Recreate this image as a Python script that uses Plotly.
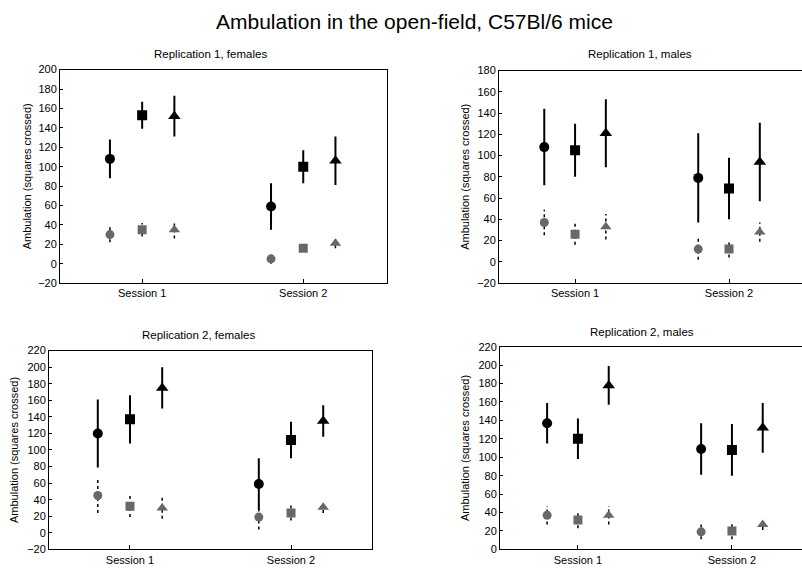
import plotly.graph_objects as go

sessions = ["Session 1", "Session 2"]
panel_titles = ["Replication 1, females", "Replication 1, males",
                "Replication 2, females", "Replication 2, males"]
main_title = "Ambulation in the open-field, C57Bl/6 mice"
y_title = "Ambulation (squares crossed)"
symbols = ["circle", "square", "triangle-up"]

# Values per panel: [circle, square, triangle] x [Session 1, Session 2]
black_means = [
    [[108, 59], [153, 100], [152, 106]],
    [[108, 79], [105, 69], [121, 94]],
    [[120, 59], [137, 112], [175, 135]],
    [[137, 109], [120, 108], [178, 132]],
]
black_errs = [
    [[20, 24], [14, 17], [21, 25]],
    [[36, 42], [25, 29], [32, 37]],
    [[41, 31], [29, 22], [25, 19]],
    [[22, 28], [22, 28], [21, 27]],
]
gray_means = [
    [[30, 5], [35, 16], [35, 21]],
    [[37, 12], [26, 12], [33, 28]],
    [[45, 19], [32, 24], [30, 31]],
    [[37, 19], [32, 20], [37, 27]],
]
gray_errs = [
    [[8, 5], [7, 3], [9, 5]],
    [[12, 10], [10, 8], [12, 9]],
    [[21, 15], [13, 9], [13, 7]],
    [[10, 8], [9, 9], [10, 6]],
]
y_ranges = [[-20, 200], [-20, 180], [-20, 220], [0, 220]]

W, H = 802, 573
# pixel boxes (left, top, right, bottom)
boxes = [(60, 65, 387, 283), (499, 66, 802, 283), (49, 352, 372, 555), (500, 348, 802, 555)]
x_ranges = [[0.49, 2.52], [0.506, 2.474], [0.497, 2.503], [0.494, 2.455]]
title_pos = [(210, 49), (640, 49), (198, 336), (642, 333)]
ytitle_x = [27, 465, 14, 465]
offsets = [-0.2, 0.0, 0.2]
gray = "#686868"
FONT = "Liberation Sans, Arial, sans-serif"

fig = go.Figure()
annotations = []
for p in range(4):
    ax = "" if p == 0 else str(p + 1)
    xref, yref = "x" + ax, "y" + ax
    for k, sym in enumerate(symbols):
        xs = [i + 1 + offsets[k] for i in range(2)]
        # gray error bars (dashed)
        lx, ly = [], []
        for i in range(2):
            m, e = gray_means[p][k][i], gray_errs[p][k][i]
            lx += [xs[i], xs[i], None]
            ly += [m - e, m + e, None]
        fig.add_trace(go.Scatter(x=lx, y=ly, mode="lines", xaxis=xref, yaxis=yref,
                                 line=dict(color="black", width=1.5, dash="3px,3px"),
                                 showlegend=False, hoverinfo="skip"))
        fig.add_trace(go.Scatter(x=xs, y=gray_means[p][k], mode="markers",
                                 xaxis=xref, yaxis=yref,
                                 marker=dict(symbol=sym, color=gray,
                                             size=10 if k == 2 else 9),
                                 showlegend=False))
        fig.add_trace(go.Scatter(x=xs, y=black_means[p][k], mode="markers",
                                 xaxis=xref, yaxis=yref,
                                 error_y=dict(type="data", array=black_errs[p][k],
                                              color="black", thickness=2, width=0),
                                 marker=dict(symbol=sym, color="black",
                                             size=11 if k == 2 else 10),
                                 showlegend=False))
    l, t, r, b = boxes[p]
    right_panel = p in (1, 3)
    fig.update_layout(**{
        "xaxis" + ax: dict(domain=[l / W, r / W], range=x_ranges[p],
                           tickvals=[1, 2], ticktext=sessions, ticks="inside",
                           ticklen=4, tickcolor="black", showline=True,
                           linecolor="black", linewidth=1, mirror=True,
                           showgrid=False, zeroline=False, anchor=yref,
                           tickfont=dict(size=11, color="black", family=FONT)),
        "yaxis" + ax: dict(domain=[1 - b / H, 1 - t / H], range=y_ranges[p],
                           dtick=20, ticks="inside", ticklen=3, tickcolor="black",
                           showline=True, linecolor="black",
                           linewidth=1, mirror=(not right_panel), showgrid=False,
                           zeroline=False, anchor=xref,
                           tickfont=dict(size=11, color="black", family=FONT)),
    })
    tx, ty = title_pos[p]
    annotations.append(dict(text=panel_titles[p], x=tx / W, y=1 - ty / H,
                            xref="paper", yref="paper", showarrow=False,
                            font=dict(size=11.5, color="black", family=FONT),
                            xanchor="center", yanchor="middle"))
    annotations.append(dict(text=y_title, x=ytitle_x[p] / W, y=1 - ((t + b) / 2) / H,
                            xref="paper", yref="paper", showarrow=False, textangle=-90,
                            font=dict(size=11, color="black", family=FONT),
                            xanchor="center", yanchor="middle"))

annotations.append(dict(text=main_title, x=414 / W, y=1 - 16 / H, xref="paper",
                        yref="paper", showarrow=False,
                        font=dict(size=21, color="black", family=FONT),
                        xanchor="center", yanchor="middle"))

fig.update_layout(width=W, height=H, margin=dict(l=0, r=0, t=0, b=0),
                  paper_bgcolor="white", plot_bgcolor="white",
                  annotations=annotations, showlegend=False,
                  font=dict(family=FONT))
fig.write_html("out.html", config={"displayModeBar": False},
               post_script="document.body.style.margin='0';document.body.style.overflow='hidden';")
